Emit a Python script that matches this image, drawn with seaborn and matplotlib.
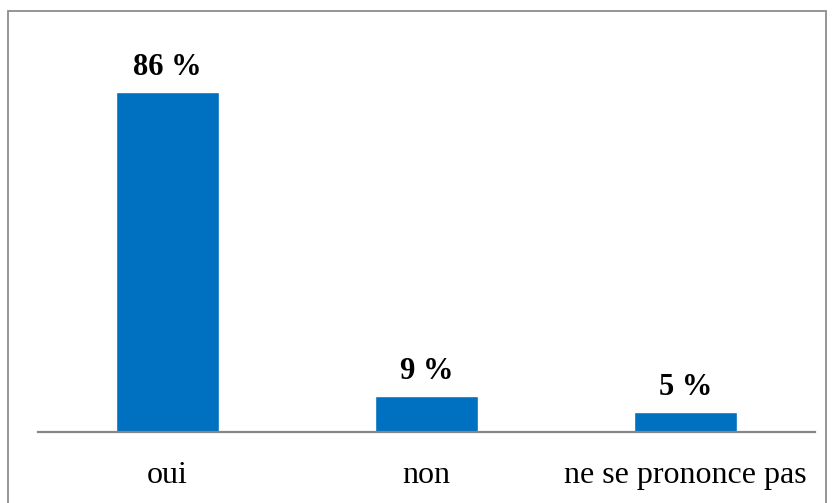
import pandas as pd
import matplotlib
matplotlib.use("Agg")
import matplotlib.pyplot as plt
import seaborn as sns
from matplotlib.patches import Rectangle

# Data
categories = ["oui", "non", "ne se prononce pas"]
values = [86, 9, 5]

df = pd.DataFrame({"reponse": categories, "pct": values})

sns.set_style("white")
plt.rcParams["font.family"] = ["Liberation Serif", "DejaVu Serif"]
plt.rcParams["text.color"] = "black"
plt.rcParams["xtick.color"] = "black"

fig = plt.figure(figsize=(8.33, 5.03), dpi=100)
ax = fig.add_axes([38 / 833, 1 - 432 / 503, (815 - 38) / 833, 395 / 503])

sns.barplot(data=df, x="reponse", y="pct", color="#0070C0", width=0.4,
            saturation=1, ax=ax)

ax.set_ylim(0, 100)
ax.set_xlim(-0.5, 2.5)
ax.set_xlabel("")
ax.set_ylabel("")
ax.set_yticks([])
ax.tick_params(axis="x", length=0, pad=21, labelsize=23, labelcolor="black")

for s in ["top", "right", "left"]:
    ax.spines[s].set_visible(False)
ax.spines["bottom"].set_color("#868686")
ax.spines["bottom"].set_linewidth(1.6)

ax.bar_label(ax.containers[0], labels=[f"{v} %" for v in values],
             padding=7.5, fontsize=22, fontweight="bold", color="black")

# Outer frame
fig.patches.append(Rectangle((8 / 833, -0.05), (826 - 8) / 833, 1.05 - 11 / 503,
                             transform=fig.transFigure, fill=False,
                             edgecolor="#8c8c8c", linewidth=1.3))

fig.savefig("out.png", dpi=100)
